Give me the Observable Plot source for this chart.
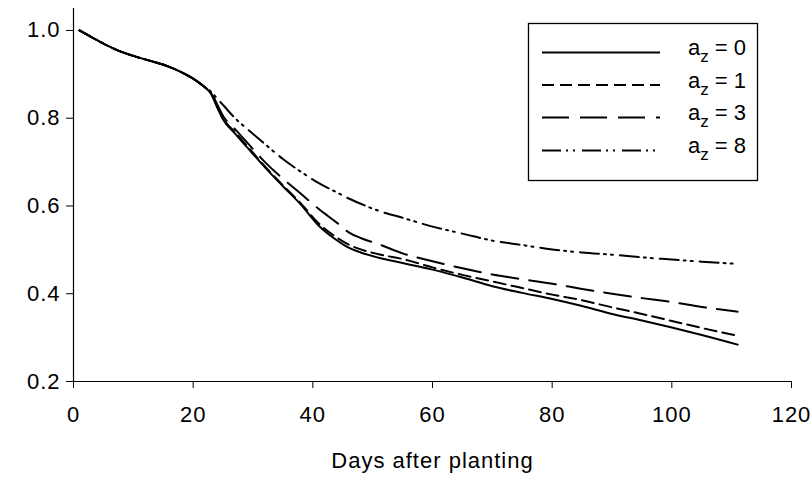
<!DOCTYPE html>
<html>
<head>
<meta charset="utf-8">
<script src="https://cdn.jsdelivr.net/npm/d3@7"></script>
<script src="https://cdn.jsdelivr.net/npm/@observablehq/plot@0.6"></script>
<style>
  body { margin: 0; background: #fff; }
  #chart svg text { letter-spacing: 1px; }
  #chart svg g.legend text { letter-spacing: 0; }
</style>
</head>
<body>
<div id="chart"></div>
<script>
// Days after planting at which the curves are sampled
const days = [1, 3, 5, 7, 10, 13, 16, 18, 20, 22, 23, 24, 25, 27, 29, 32, 35, 38, 41, 44, 46, 48, 51, 55, 60, 65, 70, 75, 80, 85, 90, 95, 100, 105, 111];

// Relative value for each a_z setting
const az0 = [1.000, 0.985, 0.970, 0.957, 0.942, 0.930, 0.917, 0.905, 0.890, 0.870, 0.855, 0.825, 0.797, 0.765, 0.734, 0.688, 0.645, 0.603, 0.555, 0.522, 0.505, 0.494, 0.482, 0.470, 0.455, 0.437, 0.417, 0.402, 0.388, 0.372, 0.354, 0.339, 0.323, 0.306, 0.284];
const az1 = [1.000, 0.985, 0.970, 0.957, 0.942, 0.930, 0.917, 0.905, 0.890, 0.870, 0.857, 0.828, 0.800, 0.768, 0.737, 0.690, 0.647, 0.606, 0.560, 0.528, 0.512, 0.501, 0.490, 0.479, 0.460, 0.443, 0.428, 0.413, 0.398, 0.385, 0.369, 0.354, 0.338, 0.322, 0.304];
const az3 = [1.000, 0.985, 0.970, 0.957, 0.942, 0.930, 0.917, 0.905, 0.890, 0.870, 0.858, 0.832, 0.805, 0.775, 0.745, 0.700, 0.662, 0.628, 0.593, 0.562, 0.540, 0.527, 0.513, 0.492, 0.474, 0.458, 0.444, 0.433, 0.423, 0.411, 0.400, 0.390, 0.381, 0.370, 0.359];
const az8 = [1.000, 0.985, 0.970, 0.957, 0.942, 0.930, 0.917, 0.905, 0.890, 0.870, 0.860, 0.845, 0.830, 0.800, 0.776, 0.741, 0.707, 0.678, 0.652, 0.631, 0.617, 0.605, 0.589, 0.573, 0.553, 0.537, 0.521, 0.511, 0.501, 0.494, 0.489, 0.483, 0.478, 0.473, 0.468];

const azValues = [0, 1, 3, 8];
const seriesValues = [az0, az1, az3, az8];
const dashes = ["none", "12,6", "27,11", "19,5,2,5,2,7"];

const xTicks = [0, 20, 40, 60, 80, 100, 120];
const yTicks = [0.2, 0.4, 0.6, 0.8, 1.0];
const xLabel = "Days after planting";

const series = azValues.map((az, k) => ({
  az,
  dash: dashes[k],
  rows: days.map((day, i) => ({ day, value: seriesValues[k][i], az }))
}));

const chart = Plot.plot({
  width: 810,
  height: 490,
  marginLeft: 73,
  marginRight: 19,
  marginTop: 8,
  marginBottom: 109,
  style: {
    fontFamily: "'Liberation Sans', Arial, sans-serif",
    fontSize: "22px",
    color: "#000",
    background: "#fff"
  },
  x: { domain: [0, 120] },
  y: { domain: [0.2, 1.05] },
  marks: [
    Plot.axisX({ ticks: xTicks, tickSize: 7, tickPadding: 18, label: null, fontSize: 22 }),
    Plot.axisY({ ticks: yTicks, tickFormat: d3.format(".1f"), tickSize: 7, tickPadding: 6, label: null, fontSize: 22 }),
    Plot.ruleX([0], { stroke: "#000", strokeWidth: 1.2 }),
    Plot.ruleY([0.2], { stroke: "#000", strokeWidth: 1.2 }),
    ...series.map(s =>
      Plot.line(s.rows, {
        x: "day",
        y: "value",
        stroke: "#000",
        strokeWidth: 2,
        strokeDasharray: s.dash,
        curve: "monotone-x"
      })
    ),
    Plot.text([xLabel], {
      frameAnchor: "bottom",
      lineAnchor: "bottom",
      dy: 86,
      fontSize: 22,
      fill: "#000"
    })
  ]
});

document.getElementById("chart").appendChild(chart);

// Legend box with line samples and a_z labels
const svg = d3.select(chart);
const legend = svg.append("g").attr("class", "legend").attr("text-anchor", "start");
legend.append("rect")
  .attr("x", 528.5).attr("y", 23.5)
  .attr("width", 229).attr("height", 157)
  .attr("fill", "#fff").attr("stroke", "#000").attr("stroke-width", 1.3);

const rowY = [52.5, 85, 117.5, 150.5];
series.forEach((s, k) => {
  const y = rowY[k];
  legend.append("line")
    .attr("x1", 542).attr("x2", 660)
    .attr("y1", y).attr("y2", y)
    .attr("stroke", "#000").attr("stroke-width", 2)
    .attr("stroke-dasharray", s.dash);
  const t = legend.append("text")
    .attr("x", 688).attr("y", y + 2.5)
    .attr("fill", "#000")
    .style("font-size", "22px");
  t.append("tspan").text("a");
  t.append("tspan").attr("dy", 7).style("font-size", "17px").text("z");
  t.append("tspan").attr("dy", -7).text(` = ${s.az}`);
});
</script>
</body>
</html>
